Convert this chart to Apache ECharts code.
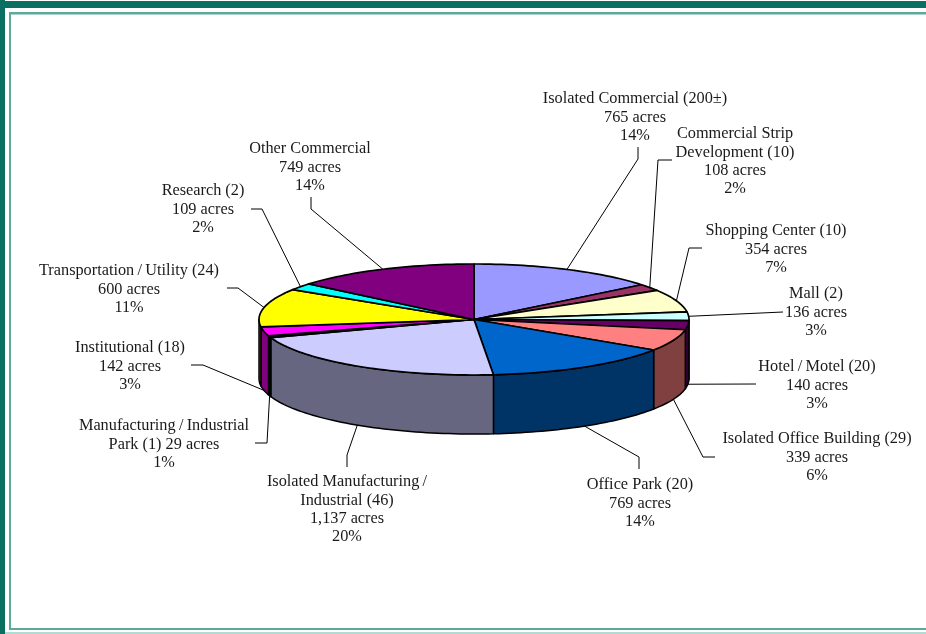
<!DOCTYPE html>
<html>
<head>
<meta charset="utf-8">
<title>Land use acres</title>
<script src="https://cdn.jsdelivr.net/npm/echarts@6/dist/echarts.min.js"></script>
<style>
	html, body { margin: 0; padding: 0; background: #fff; }
	#chart { width: 926px; height: 634px; }
</style>
</head>
<body>
<div id="chart"></div>
<script>
// acres per land use, clockwise from 12 o'clock
var acres = [765, 108, 354, 136, 140, 339, 769, 1137, 29, 142, 600, 109, 749];
var labels = [
	'Isolated Commercial (200±)\n765 acres\n14%',
	'Commercial Strip\nDevelopment (10)\n108 acres\n2%',
	'Shopping Center (10)\n354 acres\n7%',
	'Mall (2)\n136 acres\n3%',
	'Hotel\u2009/\u2009Motel (20)\n140 acres\n3%',
	'Isolated Office Building (29)\n339 acres\n6%',
	'Office Park (20)\n769 acres\n14%',
	'Isolated Manufacturing\u2009/\nIndustrial (46)\n1,137 acres\n20%',
	'Manufacturing\u2009/\u2009Industrial\nPark (1) 29 acres\n1%',
	'Institutional (18)\n142 acres\n3%',
	'Transportation\u2009/\u2009Utility (24)\n600 acres\n11%',
	'Research (2)\n109 acres\n2%',
	'Other Commercial\n749 acres\n14%'
];
var topColors = ['#9999FF', '#993366', '#FFFFCC', '#CCFFFF', '#660066', '#FF8080', '#0066CC',
	'#CCCCFF', '#000080', '#FF00FF', '#FFFF00', '#00FFFF', '#800080'];
var sideColors = ['#4D4D80', '#4D1A33', '#808066', '#668080', '#330033', '#804040', '#003366',
	'#666680', '#000040', '#800080', '#808000', '#008080', '#400040'];

// label centre [x, first line y]
var labelPos = [[635, 98], [735, 133], [776, 230], [816, 293], [817, 366], [817, 438], [640, 484],
	[347, 481], [164, 425], [130, 347], [129, 270], [203, 190], [310, 148]];
// leader line bends, from the rim outwards
var leaderBends = [
	[[638, 159], [638, 147]],
	[[658, 160], [672, 160]],
	[[689, 248], [702, 248]],
	[[783, 312]],
	[[756, 384]],
	[[703, 457], [715, 457]],
	[[639, 457], [639, 469]],
	[[347, 455], [347, 467]],
	[[267, 443], [255, 443]],
	[[203, 365], [191, 365]],
	[[238, 288], [227, 288]],
	[[262, 209], [251, 209]],
	[[311, 209], [311, 197]]
];

var cx = 474, cy = 319.5, rx = 215, ry = 55.5, depth = 59;
var total = acres.reduce(function(a, b) { return a + b; }, 0);

function sliceAngles(i) {
	var sum = 0;
	for (var j = 0; j < i; j++) {
		sum += acres[j];
	}
	return [sum / total * 360, (sum + acres[i]) / total * 360];
}

function rimPoint(deg, drop) {
	var r = deg * Math.PI / 180;
	return [cx + rx * Math.sin(r), cy - ry * Math.cos(r) + (drop || 0)];
}

function arcPoints(from, to, drop) {
	var pts = [];
	var n = Math.max(2, Math.ceil((to - from) / 1.5));
	for (var k = 0; k <= n; k++) {
		pts.push(rimPoint(from + (to - from) * k / n, drop));
	}
	return pts;
}

function renderWall(params, api) {
	var a = sliceAngles(api.value(0));
	var from = Math.max(a[0], 90), to = Math.min(a[1], 270);
	if (to <= from) {
		return null;
	}
	var pts = arcPoints(from, to, 0).concat(arcPoints(from, to, depth).reverse());
	return {
		type: 'polygon',
		shape: { points: pts },
		style: { fill: sideColors[api.value(0)], stroke: '#000', lineWidth: 1.5, lineJoin: 'round' }
	};
}

function renderTop(params, api) {
	var a = sliceAngles(api.value(0));
	var pts = [[cx, cy]].concat(arcPoints(a[0], a[1], 0));
	return {
		type: 'polygon',
		shape: { points: pts },
		style: { fill: topColors[api.value(0)], stroke: '#000', lineWidth: 1.7, lineJoin: 'round' }
	};
}

function renderLabel(params, api) {
	var i = api.value(0);
	var a = sliceAngles(i);
	var mid = (a[0] + a[1]) / 2;
	// front slices hang the leader off the bottom edge of the wall
	var front = mid > 90 && mid < 270;
	var start = rimPoint(mid, front ? depth : 0);
	return {
		type: 'group',
		children: [{
			type: 'polyline',
			shape: { points: [start].concat(leaderBends[i]) },
			style: { fill: null, stroke: '#000', lineWidth: 1 }
		}, {
			type: 'text',
			x: labelPos[i][0],
			y: labelPos[i][1] - 8,
			style: {
				text: labels[i],
				fill: '#1a1a1a',
				font: '16.3px "Liberation Serif", serif',
				lineHeight: 18.2,
				align: 'center',
				verticalAlign: 'top'
			}
		}]
	};
}

var sliceData = acres.map(function(v, i) { return [i, v]; });

var chart = echarts.init(document.getElementById('chart'));
chart.setOption({
	animation: false,
	backgroundColor: '#fff',
	graphic: {
		elements: [
			{ type: 'rect', shape: { x: 0, y: 1, width: 926, height: 7 }, style: { fill: '#0A6F60' }, silent: true },
			{ type: 'rect', shape: { x: 0, y: 0, width: 5, height: 634 }, style: { fill: '#0A6F60' }, silent: true },
			{ type: 'rect', shape: { x: 9, y: 12, width: 917, height: 2.5 }, style: { fill: '#5FA89C' }, silent: true },
			{ type: 'rect', shape: { x: 9, y: 12, width: 2, height: 618 }, style: { fill: '#5FA89C' }, silent: true },
			{ type: 'rect', shape: { x: 9, y: 628, width: 917, height: 2 }, style: { fill: '#5FA89C' }, silent: true },
			{ type: 'rect', shape: { x: 5, y: 632, width: 921, height: 2 }, style: { fill: '#B8D8D2' }, silent: true }
		]
	},
	series: [
		{ type: 'custom', name: 'wall', coordinateSystem: 'none', z: 2, silent: true, data: sliceData, renderItem: renderWall },
		{ type: 'custom', name: 'top', coordinateSystem: 'none', z: 3, silent: true, data: sliceData, renderItem: renderTop },
		{ type: 'custom', name: 'labels', coordinateSystem: 'none', z: 4, silent: true, data: sliceData, renderItem: renderLabel }
	]
});
</script>
</body>
</html>
